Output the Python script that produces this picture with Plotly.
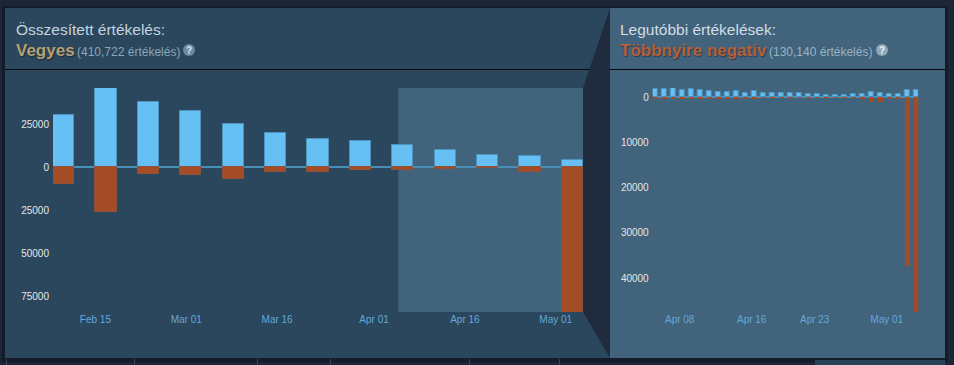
import plotly.graph_objects as go
from datetime import date, timedelta

W, H = 954, 365
DAY_MS = 86400000

# Overall reviews: weekly bars
week_dates = ["2024-02-08", "2024-02-15", "2024-02-22", "2024-02-29", "2024-03-07", "2024-03-14", "2024-03-21",
              "2024-03-28", "2024-04-04", "2024-04-11", "2024-04-18", "2024-04-25", "2024-05-02"]
week_up = [30500, 46000, 37800, 32800, 25000, 20000, 16300, 15100, 13000, 10200, 7300, 6700, 4400]
week_down = [9900, 26200, 4100, 4600, 7000, 2900, 2900, 1700, 1500, 800, 700, 2600, 84300]

# Recent reviews: daily bars
day_dates = [(date(2024, 4, 5) + timedelta(days=i)).isoformat() for i in range(30)]
day_up = [1800, 1800, 2000, 1600, 1900, 1600, 1500, 1300, 1300, 1500, 1100, 1400, 1000, 1000, 900,
          1100, 1000, 700, 700, 600, 600, 600, 800, 800, 1300, 1100, 700, 700, 1700, 1700]
day_down = [300, 200, 300, 200, 400, 200, 200, 200, 200, 200, 150, 150, 100, 100, 100,
            100, 100, 100, 100, 100, 100, 100, 100, 150, 1100, 1000, 300, 200, 37400, 47500]

left_ticks_y = [25000, 0, -25000, -50000, -75000]
left_labels_y = ["25000", "0", "25000", "50000", "75000"]
left_ticks_x = ["2024-02-15", "2024-03-01", "2024-03-16", "2024-04-01", "2024-04-16", "2024-05-01"]
left_labels_x = ["Feb 15", "Mar 01", "Mar 16", "Apr 01", "Apr 16", "May 01"]
right_ticks_y = [0, -10000, -20000, -30000, -40000]
right_labels_y = ["0", "10000", "20000", "30000", "40000"]
right_ticks_x = ["2024-04-08", "2024-04-16", "2024-04-23", "2024-05-01"]
right_labels_x = ["Apr 08", "Apr 16", "Apr 23", "May 01"]

BG = "#1b2636"
PANEL = "#2a475e"
PANEL2 = "#41637c"
WEDGE = "#202c3d"
BLUE = "#66c0f4"
BLUE_EDGE = "#4f94bf"
RUST = "#a34c25"
RUST_EDGE = "#8f5238"
FONT = "Liberation Sans"


def fx(px):
    return px / W


def fy(px):
    return 1 - px / H


def rect(x0, y0, x1, y1, color):
    return dict(type="rect", xref="paper", yref="paper", x0=fx(x0), x1=fx(x1), y0=fy(y1), y1=fy(y0),
                fillcolor=color, line_width=0, layer="below")


def pos(px, py):
    return f"{fx(px):.5f} {fy(py):.5f}"


fig = go.Figure()
fig.add_bar(x=week_dates, y=week_up, xaxis="x", yaxis="y", width=3.5 * DAY_MS, offset=0,
            marker=dict(color=BLUE, line=dict(color=BLUE_EDGE, width=1)))
fig.add_bar(x=week_dates, y=[-v for v in week_down], xaxis="x", yaxis="y", width=3.5 * DAY_MS, offset=0,
            marker=dict(color=RUST, line=dict(color=RUST_EDGE, width=1)))
fig.add_bar(x=day_dates, y=day_up, xaxis="x2", yaxis="y2", width=0.5 * DAY_MS, offset=0,
            marker=dict(color=BLUE, line=dict(color=BLUE_EDGE, width=1)))
fig.add_bar(x=day_dates, y=[-v for v in day_down], xaxis="x2", yaxis="y2", width=0.5 * DAY_MS, offset=0,
            marker=dict(color=RUST, line=dict(width=0)))

shapes = [
    # panel shadows
    rect(2, 6, 948, 362, "rgba(8,12,20,0.35)"),
    # panels
    rect(5, 8, 610, 358, PANEL),
    rect(610, 8, 945, 358, PANEL2),
    # connector wedge
    dict(type="path", xref="paper", yref="paper", layer="below", fillcolor=WEDGE, line_width=0,
         path=f"M {pos(610, 8)} L {pos(583, 88)} L {pos(583, 312)} L {pos(610, 358)} Z"),
    # highlighted last 30 days, in the overall chart
    dict(type="rect", xref="x", yref="y domain", x0="2024-04-05", x1="2024-05-05 12:00", y0=0, y1=1,
         fillcolor=PANEL2, line_width=0, layer="below"),
    # header rules
    rect(5, 69, 589.5, 70, "#05080c"),
    rect(610, 69, 945, 70, "#05080c"),
    # strip below the panels
    rect(815, 360, 945, 365, "#2a4258"),
]
for lx in [6, 134, 257, 330, 469, 559]:
    shapes.append(rect(lx, 359, lx + 1, 365, "#31465c"))
# help icons
for cx, col in [(189, "#6d8aa3"), (882, "#8ba7ba")]:
    shapes.append(dict(type="circle", xref="paper", yref="paper", layer="below", fillcolor=col, line_width=0,
                       x0=fx(cx - 6), x1=fx(cx + 6), y0=fy(56), y1=fy(44)))


def note(px, py, text, size, color, shadow="none"):
    return dict(xref="paper", yref="paper", x=fx(px), y=fy(py), text=text, showarrow=False,
                xanchor="left", yanchor="middle", xshift=0, borderpad=0, borderwidth=0,
                font=dict(family=FONT, size=size, color=color, shadow=shadow))


annotations = [
    note(16, 29, "Összesített értékelés:", 15.5, "#c6d4df"),
    note(16, 51, "<b>Vegyes</b>", 17, "#b9a074", "1px 1px 1px rgba(0,0,0,0.4)"),
    note(77, 52, "(410,722 értékelés)", 12, "#8ba6b6"),
    note(620, 29, "Legutóbbi értékelések:", 15.5, "#d2dde5"),
    note(620, 51, "<b>Többnyire negatív</b>", 17, "#b5603a", "1px 1px 1px rgba(0,0,0,0.4)"),
    note(769, 52, "(130,140 értékelés)", 12, "#9cb4c3"),
    note(186, 50, "<b>?</b>", 10, "#dfe8ee"),
    note(879, 50, "<b>?</b>", 10, "#eef3f6"),
]

tick_y = dict(family=FONT, size=10, color="#e6e6e6")
tick_x = dict(family=FONT, size=10, color="#66a8d8")
common_x = dict(type="date", showgrid=False, showline=False, zeroline=False, ticks="", tickmode="array", tickangle=0,
                tickfont=tick_x)
common_y = dict(showgrid=False, showline=False, zeroline=True, zerolinecolor="#4a8db5", zerolinewidth=2, ticks="",
                tickmode="array", tickfont=tick_y, ticklabelstandoff=3)

fig.update_layout(
    width=W, height=H, autosize=False,
    margin=dict(l=0, r=0, t=0, b=0),
    paper_bgcolor=BG, plot_bgcolor="rgba(0,0,0,0)",
    barmode="relative", bargap=0, showlegend=False, hovermode=False,
    font=dict(family=FONT),
    shapes=shapes, annotations=annotations,
    xaxis=dict(common_x, domain=[fx(53), fx(583)], range=["2024-02-08", "2024-05-05 12:00"],
               tickvals=left_ticks_x, ticktext=left_labels_x, anchor="y"),
    yaxis=dict(common_y, domain=[fy(312), fy(88)], range=[-84000, 45930],
               tickvals=left_ticks_y, ticktext=left_labels_y, anchor="x"),
    xaxis2=dict(common_x, domain=[fx(652.7), fx(918.2)], range=["2024-04-05", "2024-05-04 12:00"],
                tickvals=right_ticks_x, ticktext=right_labels_x, anchor="y2"),
    yaxis2=dict(common_y, domain=[fy(312), fy(88)], range=[-47500, 2100],
                tickvals=right_ticks_y, ticktext=right_labels_y, anchor="x2"),
)

fig.write_html("out.html", config=dict(displayModeBar=False),
               post_script="document.body.style.margin='0';document.documentElement.style.overflow='hidden';")
